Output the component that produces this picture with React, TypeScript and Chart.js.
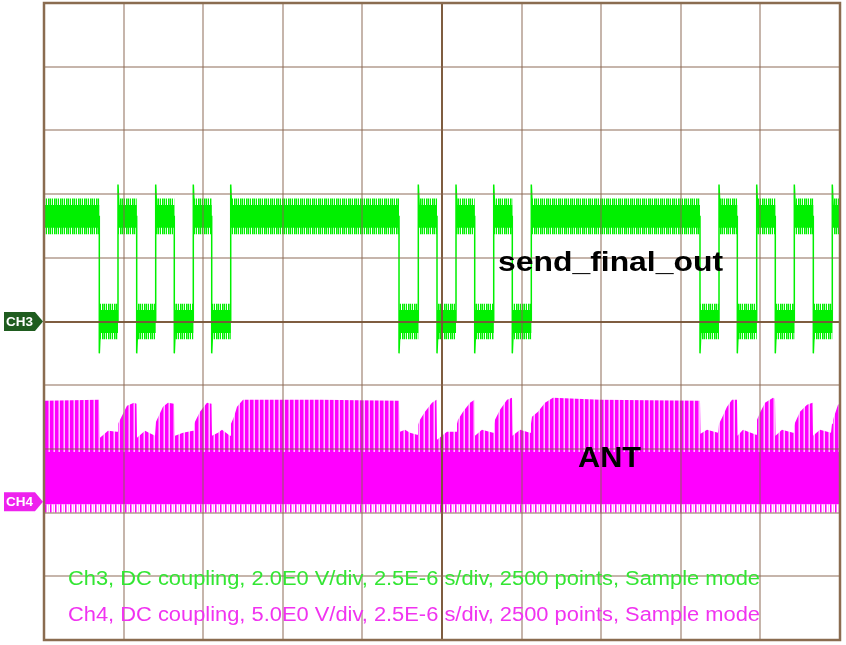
import React, { useEffect, useRef } from "react";
import { Chart, registerables } from "chart.js";

Chart.register(...registerables);

// ---- scope settings ----
const TIME_PER_DIV_US = 2.5;
const DIVS_X = 10;
const DIVS_Y_HALF = 5;
const CH3_VOLTS_PER_DIV = 2.0;
const CH4_VOLTS_PER_DIV = 5.0;
const CH3_OFFSET_DIV = 0;
const CH4_OFFSET_DIV = -2.83;

// ---- CH3 (send_final_out): digital signal, starts high ----
const ch3EdgeTimesUs = [
  1.737, 2.324, 2.911, 3.508, 4.092, 4.689, 5.267, 5.864,
  11.15, 11.756, 12.343, 12.94, 13.527, 14.124, 14.708, 15.305,
  20.603, 21.2, 21.775, 22.384, 22.968, 23.565, 24.162, 24.758,
];
const ch3HighV = 3.3;
const ch3LowV = 0;
const ch3NoiseCoreV = 0.36;
const ch3NoisePeakV = 0.56;
const ch3OvershootV = 4.3;
const ch3UndershootV = -1.0;

// ---- CH4 (ANT): carrier envelope ----
const ch4EnvTimesUs = [
  0, 1.727, 1.759, 2.01, 2.293, 2.324, 2.45, 2.607, 2.827, 2.905,
  2.921, 3.172, 3.486, 3.518, 3.737, 3.894, 4.083, 4.115, 4.366, 4.68,
  4.711, 4.899, 5.119, 5.261, 5.276, 5.465, 5.59, 5.842, 5.873, 5.967,
  6.062, 6.25, 8.668, 11.15, 11.181, 11.338, 11.495, 11.715, 11.746, 11.809,
  11.966, 12.186, 12.327, 12.343, 12.657, 12.94, 12.971, 13.003, 13.16, 13.38,
  13.521, 13.536, 13.756, 14.102, 14.133, 14.165, 14.322, 14.542, 14.699, 14.714,
  14.95, 15.264, 15.295, 15.327, 15.515, 15.735, 15.986, 17.462, 20.603, 20.619,
  20.823, 21.168, 21.2, 21.294, 21.451, 21.608, 21.765, 21.781, 21.954, 22.362,
  22.393, 22.487, 22.645, 22.896, 22.959, 22.974, 23.178, 23.524, 23.555, 23.587,
  23.744, 23.964, 24.137, 24.152, 24.372, 24.717, 24.749, 24.78, 24.937, 25.0,
];
const ch4EnvTopV = [
  7.93, 8.0, 5.02, 5.57, 5.5, 6.12, 6.75, 7.54, 7.77, 7.69,
  5.02, 5.57, 5.18, 6.28, 7.46, 7.77, 7.69, 5.18, 5.42, 5.57,
  6.12, 7.07, 7.77, 7.69, 5.18, 5.42, 5.65, 5.18, 6.12, 6.67,
  7.46, 8.0, 8.0, 7.93, 5.5, 5.65, 5.42, 5.26, 6.04, 6.44,
  7.07, 7.77, 8.0, 4.87, 5.5, 5.5, 6.12, 6.44, 7.07, 7.77,
  8.0, 5.18, 5.65, 5.42, 6.12, 6.44, 7.22, 8.0, 8.16, 5.18,
  5.65, 5.42, 6.12, 6.67, 7.07, 7.77, 8.16, 8.0, 7.93, 5.34,
  5.65, 5.42, 6.12, 6.59, 7.46, 8.0, 8.0, 5.18, 5.65, 5.26,
  6.44, 6.99, 7.77, 8.16, 8.08, 5.18, 5.65, 5.42, 5.97, 6.2,
  7.07, 7.61, 7.77, 5.18, 5.65, 5.42, 6.12, 6.44, 7.61, 7.69,
];
const ch4CoreTopV = 3.9;
const ch4CoreBottomV = -0.2;
const ch4SpikeBottomV = -0.85;

// ---- texts ----
const signalLabelTop = "send_final_out";
const signalLabelBottom = "ANT";
const infoLines = [
  "Ch3, DC coupling, 2.0E0 V/div, 2.5E-6 s/div, 2500 points, Sample mode",
  "Ch4, DC coupling, 5.0E0 V/div, 2.5E-6 s/div, 2500 points, Sample mode",
];
const channelMarkers = ["CH3", "CH4"];

const ch3Div = (v: number) => v / CH3_VOLTS_PER_DIV + CH3_OFFSET_DIV;
const ch4Div = (v: number) => v / CH4_VOLTS_PER_DIV + CH4_OFFSET_DIV;

function fitText(
  ctx: CanvasRenderingContext2D,
  text: string,
  x: number,
  y: number,
  width: number,
  font: string,
  color: string
) {
  ctx.save();
  ctx.font = font;
  ctx.fillStyle = color;
  ctx.textBaseline = "alphabetic";
  ctx.textAlign = "left";
  const w = ctx.measureText(text).width;
  ctx.translate(x, y);
  ctx.scale(width / w, 1);
  ctx.fillText(text, 0, 0);
  ctx.restore();
}

function drawMarker(ctx: CanvasRenderingContext2D, label: string, yc: number, color: string) {
  ctx.save();
  ctx.beginPath();
  ctx.moveTo(4, yc - 9.5);
  ctx.lineTo(35, yc - 9.5);
  ctx.lineTo(43, yc);
  ctx.lineTo(35, yc + 9.5);
  ctx.lineTo(4, yc + 9.5);
  ctx.closePath();
  ctx.fillStyle = color;
  ctx.fill();
  ctx.fillStyle = "#ffffff";
  ctx.font = "bold 13px 'Liberation Sans', Arial, sans-serif";
  ctx.textBaseline = "middle";
  const w = ctx.measureText(label).width;
  ctx.translate(6, yc + 0.5);
  ctx.scale(27 / w, 1);
  ctx.fillText(label, 0, 0);
  ctx.restore();
}

export default function App() {
  const ref = useRef<HTMLCanvasElement>(null);

  useEffect(() => {
    document.body.style.margin = "0";
    document.body.style.background = "#ffffff";
    const canvas = ref.current!;
    const ctx = canvas.getContext("2d")!;

    const makeStripe = (cols: string[]) => {
      const c = document.createElement("canvas");
      c.width = cols.length;
      c.height = 1;
      const g = c.getContext("2d")!;
      cols.forEach((col, i) => {
        if (col) {
          g.fillStyle = col;
          g.fillRect(i, 0, 1, 1);
        }
      });
      return ctx.createPattern(c, "repeat")!;
    };

    const green = "#00f000";
    const magenta = "#ff00ff";
    const greenStripe = makeStripe([green, "rgba(0,240,0,0.6)", green, "rgba(0,240,0,0.25)", green, ""]);
    const magentaStripe = makeStripe([magenta, magenta, magenta, "rgba(255,0,255,0.6)", "rgba(255,0,255,0.25)"]);
    const magentaSparse = makeStripe([magenta, "rgba(255,0,255,0.55)", "", "rgba(255,0,255,0.3)", ""]);

    const tEnd = DIVS_X * TIME_PER_DIV_US;

    // CH3 segments
    const bounds = [0, ...ch3EdgeTimesUs, tEnd];
    const segs: { a: number; b: number; v: number }[] = [];
    for (let i = 0; i < bounds.length - 1; i++) {
      segs.push({ a: bounds[i], b: bounds[i + 1], v: i % 2 === 0 ? ch3HighV : ch3LowV });
    }
    const band = (off: number) =>
      segs.flatMap((s) => [
        { x: s.a, y: ch3Div(s.v + off) },
        { x: s.b, y: ch3Div(s.v + off) },
      ]);
    const trace: { x: number; y: number }[] = [{ x: 0, y: ch3Div(ch3HighV) }];
    ch3EdgeTimesUs.forEach((t, i) => {
      const falling = i % 2 === 0;
      const prev = falling ? ch3HighV : ch3LowV;
      const next = falling ? ch3LowV : ch3HighV;
      const spike = falling ? ch3UndershootV : ch3OvershootV;
      trace.push({ x: t, y: ch3Div(prev) }, { x: t, y: ch3Div(spike) }, { x: t + 0.04, y: ch3Div(next) });
    });
    trace.push({ x: tEnd, y: ch3Div(ch3HighV) });

    const env = ch4EnvTimesUs.map((t, i) => ({ x: t, y: ch4Div(ch4EnvTopV[i]) }));
    const flat = (v: number) => [
      { x: 0, y: ch4Div(v) },
      { x: tEnd, y: ch4Div(v) },
    ];

    const none = "rgba(0,0,0,0)";
    const base = { pointRadius: 0, borderWidth: 0, borderColor: none, tension: 0 };

    const gridPlugin = {
      id: "scopeGrid",
      afterDatasetsDraw(chart: any) {
        const c: CanvasRenderingContext2D = chart.ctx;
        const a = chart.chartArea;
        const xs = chart.scales.x;
        const ys = chart.scales.y;
        c.save();
        for (let i = 1; i < DIVS_X; i++) {
          const x = Math.round(xs.getPixelForValue(i * TIME_PER_DIV_US));
          const center = i === DIVS_X / 2;
          c.strokeStyle = center ? "rgba(120,84,54,0.95)" : "rgba(135,100,80,0.48)";
          c.lineWidth = 2;
          c.beginPath();
          c.moveTo(x, a.top);
          c.lineTo(x, a.bottom);
          c.stroke();
        }
        for (let j = -DIVS_Y_HALF + 1; j < DIVS_Y_HALF; j++) {
          const y = Math.round(ys.getPixelForValue(j));
          const center = j === 0;
          c.strokeStyle = center ? "rgba(120,84,54,0.95)" : "rgba(135,100,80,0.48)";
          c.lineWidth = 2;
          c.beginPath();
          c.moveTo(a.left, y);
          c.lineTo(a.right, y);
          c.stroke();
        }
        c.strokeStyle = "#8a6c50";
        c.lineWidth = 2.5;
        c.strokeRect(a.left, a.top, a.right - a.left, a.bottom - a.top);
        c.restore();
      },
      afterDraw(chart: any) {
        const c: CanvasRenderingContext2D = chart.ctx;
        const ys = chart.scales.y;
        fitText(c, signalLabelTop, 498, 271, 225, "bold 28px 'Liberation Sans', Arial, sans-serif", "#000000");
        fitText(c, signalLabelBottom, 578, 467, 63, "bold 30px 'Liberation Sans', Arial, sans-serif", "#000000");
        fitText(c, infoLines[0], 68, 585, 692, "20px 'Liberation Sans', Arial, sans-serif", "#33e633");
        fitText(c, infoLines[1], 68, 621, 692, "20px 'Liberation Sans', Arial, sans-serif", "#f033f0");
        drawMarker(c, channelMarkers[0], ys.getPixelForValue(CH3_OFFSET_DIV), "#1f5c1f");
        drawMarker(c, channelMarkers[1], ys.getPixelForValue(CH4_OFFSET_DIV), "#ee22ee");
      },
    };

    const chart = new Chart(canvas, {
      type: "line",
      data: {
        datasets: [
          { ...base, data: band(ch3NoisePeakV), fill: "+1", backgroundColor: greenStripe, order: 3 },
          { ...base, data: band(-ch3NoisePeakV), fill: false, order: 3 },
          { ...base, data: band(ch3NoiseCoreV), fill: "+1", backgroundColor: green, order: 2 },
          { ...base, data: band(-ch3NoiseCoreV), fill: false, order: 2 },
          { ...base, data: trace, fill: false, borderWidth: 1.5, borderColor: green, order: 1 },
          { ...base, data: env, fill: { value: ch4Div(ch4CoreTopV) }, backgroundColor: magentaStripe, order: 5 },
          { ...base, data: flat(ch4CoreBottomV), fill: { value: ch4Div(ch4CoreTopV) }, backgroundColor: magenta, order: 4 },
          { ...base, data: flat(ch4SpikeBottomV), fill: { value: ch4Div(ch4CoreBottomV) }, backgroundColor: magentaSparse, order: 6 },
        ] as any,
      },
      options: {
        responsive: false,
        animation: false,
        layout: { padding: { left: 44, top: 3, right: 6, bottom: 5 } },
        plugins: { legend: { display: false }, tooltip: { enabled: false } },
        elements: { point: { radius: 0 }, line: { tension: 0 } },
        scales: {
          x: { type: "linear", min: 0, max: DIVS_X * TIME_PER_DIV_US, display: false },
          y: { type: "linear", min: -DIVS_Y_HALF, max: DIVS_Y_HALF, display: false },
        },
      },
      plugins: [gridPlugin],
    });

    return () => chart.destroy();
  }, []);

  return <canvas ref={ref} width={846} height={645} style={{ display: "block" }} />;
}
